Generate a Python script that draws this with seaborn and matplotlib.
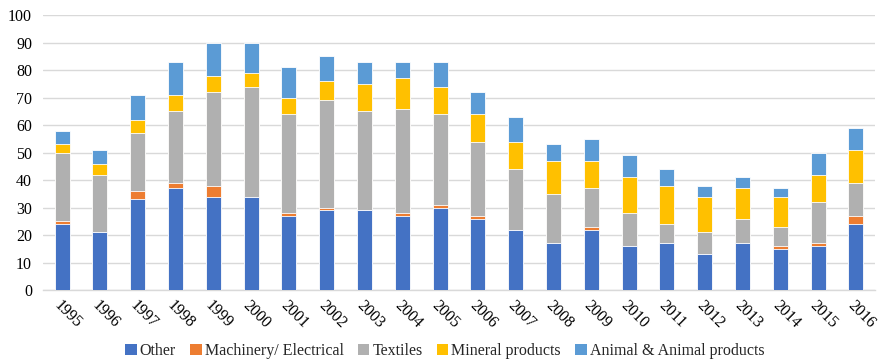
import numpy as np
import pandas as pd
import matplotlib
matplotlib.use("Agg")
import matplotlib.pyplot as plt
import seaborn as sns
from matplotlib.patches import Patch

years = [str(y) for y in range(1995, 2017)]
other = [24, 21, 33, 37, 34, 34, 27, 29, 29, 27, 30, 26, 22, 17, 22, 16, 17, 13, 17, 15, 16, 24]
machinery = [1, 0, 3, 2, 4, 0, 1, 1, 0, 1, 1, 1, 0, 0, 1, 0, 0, 0, 0, 1, 1, 3]
textiles = [25, 21, 21, 26, 34, 40, 36, 39, 36, 38, 33, 27, 22, 18, 14, 12, 7, 8, 9, 7, 15, 12]
mineral = [3, 4, 5, 6, 6, 5, 6, 7, 10, 11, 10, 10, 10, 12, 10, 13, 14, 13, 11, 11, 10, 12]
animal = [5, 5, 9, 12, 12, 11, 11, 9, 8, 6, 9, 8, 9, 6, 8, 8, 6, 4, 4, 3, 8, 8]

series_names = ["Other", "Machinery/ Electrical", "Textiles", "Mineral products",
                "Animal & Animal products"]
series_vals = [other, machinery, textiles, mineral, animal]
colors = ["#4472C4", "#ED7D31", "#B0B0B0", "#FFC000", "#5B9BD5"]

sns.set_theme(style="white")
plt.rcParams["font.family"] = ["Liberation Serif", "DejaVu Serif"]

fig = plt.figure(figsize=(8.81, 3.59), dpi=100)
ax = fig.add_axes([0.049, 0.192, 0.944, 0.766])

cum = np.cumsum(np.array(series_vals), axis=0)
# Draw cumulative totals from the top series down so each layer sits on the one below
for i in range(len(series_names) - 1, -1, -1):
    df = pd.DataFrame({"year": years, "value": cum[i]})
    sns.barplot(data=df, x="year", y="value", color=colors[i], width=0.4,
                saturation=1, edgecolor="white", linewidth=0.6, ax=ax, zorder=3)

ax.set_ylim(0, 100)
ax.set_xlim(-0.5, len(years) - 0.5)
ax.set_yticks(range(0, 101, 10))
ax.yaxis.grid(True, color="#D9D9D9", linewidth=1.0, zorder=0)
ax.set_axisbelow(True)
for s in ["top", "right", "left"]:
    ax.spines[s].set_visible(False)
ax.spines["bottom"].set_color("#D9D9D9")
ax.spines["bottom"].set_linewidth(1.0)
ax.set_xlabel("")
ax.set_ylabel("")
ax.tick_params(axis="y", labelsize=11.5, colors="#000000", length=0, pad=8)
ax.tick_params(axis="x", labelsize=11.5, colors="#000000", length=0, pad=5)
plt.setp(ax.get_xticklabels(), rotation=-45, ha="left", va="top", rotation_mode="anchor")

handles = [Patch(facecolor=c, edgecolor="none") for c in colors]
fig.legend(handles, series_names, loc="lower center", bbox_to_anchor=(0.505, -0.04),
           ncol=5, frameon=False, fontsize=11.5, handlelength=0.7, handleheight=0.7,
           handletextpad=0.2, columnspacing=0.9)

fig.savefig("out.png", dpi=100)
